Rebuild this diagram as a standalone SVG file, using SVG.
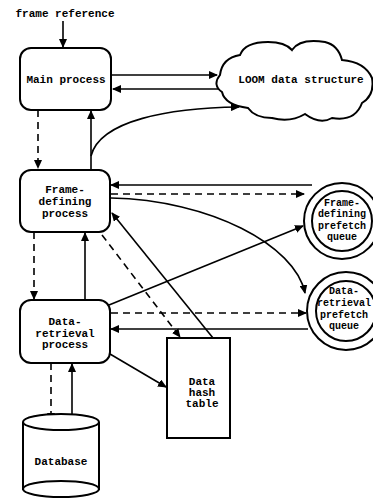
<svg xmlns="http://www.w3.org/2000/svg" width="373" height="499" viewBox="0 0 373 499">
<style>
.n{fill:#fff;stroke:#000;stroke-width:2}
.t{font-family:"Liberation Mono","DejaVu Sans Mono",monospace;font-size:11px;font-weight:bold;fill:#000;text-anchor:middle}
.q{font-size:10px}
.s{fill:none;stroke:#000;stroke-width:1.6}
.d{fill:none;stroke:#000;stroke-width:1.6;stroke-dasharray:7 5}
</style>
<defs>
<marker id="a" markerUnits="userSpaceOnUse" markerWidth="9" markerHeight="8" refX="8" refY="4" orient="auto">
<path d="M0,0 L9,4 L0,8 Z" fill="#000"/>
</marker>
</defs>
<rect width="373" height="499" fill="#fff"/>
<g id="connectors">
<path class="s" d="M63,21 L63,47" marker-end="url(#a)"/>
<path class="s" d="M112,75 L217,75" marker-end="url(#a)"/>
<path class="s" d="M226,89 L113,89" marker-end="url(#a)"/>
<path class="s" d="M91,156 C100,120 170,108 239,107" marker-end="url(#a)"/>
<path class="s" d="M91,169 L91,111" marker-end="url(#a)"/>
<path class="d" d="M38,110 L38,168" marker-end="url(#a)"/>
<path class="d" d="M34,232 L34,299" marker-end="url(#a)"/>
<path class="s" d="M85,300 L85,233" marker-end="url(#a)"/>
<path class="s" d="M312,185 L111,185" marker-end="url(#a)"/>
<path class="d" d="M111,194 L304,194" marker-end="url(#a)"/>
<path class="s" d="M111,198 C210,200 295,245 305,293" marker-end="url(#a)"/>
<path class="s" d="M109,305 L303,226" marker-end="url(#a)"/>
<path class="s" d="M213,338 L112,213" marker-end="url(#a)"/>
<path class="d" d="M102,235 L180,337" marker-end="url(#a)"/>
<path class="d" d="M111,313 L306,313" marker-end="url(#a)"/>
<path class="s" d="M308,329 L111,329" marker-end="url(#a)"/>
<path class="s" d="M110,354 L166,387" marker-end="url(#a)"/>
<path class="d" d="M51,363 L51,421" marker-end="url(#a)"/>
<path class="s" d="M72,425 L72,364" marker-end="url(#a)"/>
</g>
<text class="t" x="65" y="17">frame reference</text>
<g id="main">
<rect class="n" x="20" y="48" width="91" height="62" rx="11"/>
<text class="t" x="66" y="83">Main process</text>
</g>
<g id="loom">
<path class="n" d="M220,75 Q222,58 240,55 Q245,42 268,42 Q285,42 292,50 Q300,38 325,42 Q338,45 342,60 Q365,62 372,78 Q375,95 362,103 Q355,122 332,118 Q320,125 305,114 Q290,123 272,118 Q255,118 248,108 Q225,105 222,92 Q212,85 220,75 Z"/>
<text class="t" x="301" y="83">LOOM data structure</text>
</g>
<g id="frame">
<rect class="n" x="20" y="170" width="90" height="62" rx="11"/>
<text class="t" x="65" y="193">Frame-</text>
<text class="t" x="65" y="205">defining</text>
<text class="t" x="65" y="217">process</text>
</g>
<g id="retrieval">
<rect class="n" x="20" y="300" width="90" height="63" rx="11"/>
<text class="t" x="65" y="325">Data-</text>
<text class="t" x="65" y="337">retrieval</text>
<text class="t" x="65" y="348">process</text>
</g>
<g id="fqueue">
<circle class="n" cx="342" cy="221" r="38"/>
<circle class="n" cx="342" cy="221" r="30"/>
<text class="t q" x="342" y="206">Frame-</text>
<text class="t q" x="342" y="217">defining</text>
<text class="t q" x="342" y="229">prefetch</text>
<text class="t q" x="342" y="240">queue</text>
</g>
<g id="dqueue">
<circle class="n" cx="346" cy="311" r="39"/>
<circle class="n" cx="346" cy="311" r="30"/>
<text class="t q" x="344" y="294">Data-</text>
<text class="t q" x="344" y="306">retrieval</text>
<text class="t q" x="344" y="318">prefetch</text>
<text class="t q" x="344" y="329">queue</text>
</g>
<g id="hash">
<rect class="n" x="167" y="338" width="63" height="100"/>
<text class="t" x="202" y="385">Data</text>
<text class="t" x="202" y="396">hash</text>
<text class="t" x="202" y="407">table</text>
</g>
<g id="database">
<path class="n" d="M23,422 L23,489 L99,489 L99,422"/>
<ellipse class="n" cx="61" cy="489" rx="38" ry="8"/>
<ellipse class="n" cx="61" cy="422" rx="38" ry="8"/>
<text class="t" x="61" y="465">Database</text>
</g>
</svg>
